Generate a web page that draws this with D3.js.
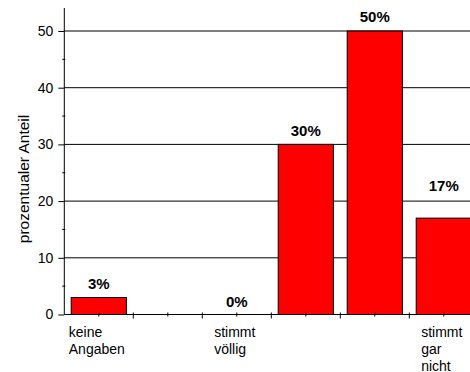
<!DOCTYPE html>
<html>
<head>
<meta charset="utf-8">
<script src="https://cdn.jsdelivr.net/npm/d3@7"></script>
<style>
  html, body { margin: 0; padding: 0; background: #fff; }
  svg { display: block; font-family: "Liberation Sans", Arial, Helvetica, sans-serif; }
</style>
</head>
<body>
<svg id="chart" width="470" height="372"></svg>
<script>
// Survey answers, share of respondents per answer option
const categories = ["keine Angaben", "", "stimmt völlig", "", "", "stimmt gar nicht"];
const values = [3, null, 0, 30, 50, 17];
const majorTicks = [0, 10, 20, 30, 40, 50];
const minorTicks = [5, 15, 25, 35, 45];
const yTitle = "prozentualer Anteil";

const svg = d3.select("#chart");
const W = 470;
const plotLeft = 64.3, plotBottom = 314.5, plotTop = 8;

const y = d3.scaleLinear().domain([0, 50]).range([plotBottom, 31]);
const idx = d3.range(categories.length);
const xOuter = d3.scaleBand().domain(idx).range([plotLeft, plotLeft + 69 * categories.length]).padding(0);
const xBar = d3.scaleBand().domain(idx).range([plotLeft, plotLeft + 69 * categories.length])
  .paddingInner(0.2).paddingOuter(0.1);

// horizontal grid lines
svg.append("g").selectAll("line")
  .data(majorTicks.filter(d => d > 0))
  .join("line")
  .attr("x1", plotLeft).attr("x2", W)
  .attr("y1", d => y(d)).attr("y2", d => y(d))
  .attr("stroke", "#000").attr("stroke-width", 1);

// bars
const bars = idx.filter(i => values[i] !== null && values[i] > 0);
svg.append("g").selectAll("rect")
  .data(bars)
  .join("rect")
  .attr("x", i => xBar(i))
  .attr("y", i => y(values[i]))
  .attr("width", xBar.bandwidth())
  .attr("height", i => y(0) - y(values[i]))
  .attr("fill", "#ff0000")
  .attr("stroke", "#000").attr("stroke-width", 1);

// y axis
const yAxis = d3.axisLeft(y).tickValues(majorTicks).tickSize(6).tickPadding(5).tickSizeOuter(0);
const gy = svg.append("g").attr("transform", `translate(${plotLeft},0)`).call(yAxis);
gy.select(".domain").remove();
gy.selectAll("text").attr("font-size", 14).attr("fill", "#000")
  .attr("font-family", "'Liberation Sans', Arial, sans-serif");
gy.selectAll("line").attr("stroke", "#000");
svg.append("line").attr("x1", plotLeft).attr("x2", plotLeft).attr("y1", plotTop).attr("y2", plotBottom)
  .attr("stroke", "#000");
svg.append("g").selectAll("line").data(minorTicks).join("line")
  .attr("x1", plotLeft - 2).attr("x2", plotLeft + 1)
  .attr("y1", d => y(d)).attr("y2", d => y(d))
  .attr("stroke", "#000");

// x axis
svg.append("line").attr("x1", plotLeft).attr("x2", W).attr("y1", plotBottom).attr("y2", plotBottom)
  .attr("stroke", "#000");
svg.append("g").selectAll("line").data(idx).join("line")
  .attr("x1", i => xOuter(i) + xOuter.step()).attr("x2", i => xOuter(i) + xOuter.step())
  .attr("y1", plotBottom - 2).attr("y2", plotBottom + 4)
  .attr("stroke", "#000");
svg.append("g").selectAll("line").data(idx).join("line")
  .attr("x1", i => xOuter(i) + xOuter.step() / 2).attr("x2", i => xOuter(i) + xOuter.step() / 2)
  .attr("y1", plotBottom - 2).attr("y2", plotBottom + 2)
  .attr("stroke", "#000");

// category labels, one word per line, block centred under the band
const catG = svg.append("g").attr("font-size", 14).attr("fill", "#000");
idx.forEach(i => {
  if (!categories[i]) return;
  const words = categories[i].split(" ");
  const t = catG.append("text").attr("y", 336.5);
  words.forEach((w, k) => {
    t.append("tspan").attr("dy", k === 0 ? 0 : 17).text(w);
  });
  let maxW = 0;
  t.selectAll("tspan").each(function () { maxW = Math.max(maxW, this.getComputedTextLength()); });
  const x0 = xOuter(i) + xOuter.step() / 2 - maxW / 2 - 2;
  t.selectAll("tspan").attr("x", x0);
});

// value labels above the bars
const labelLift = [8, 0, 8, 8, 9, 27];
svg.append("g").selectAll("text")
  .data(idx.filter(i => values[i] !== null))
  .join("text")
  .attr("x", i => xBar(i) + xBar.bandwidth() / 2)
  .attr("y", i => y(values[i]) - labelLift[i])
  .attr("text-anchor", "middle")
  .attr("font-size", 15).attr("font-weight", "bold").attr("fill", "#000")
  .text(i => values[i] + "%");

// y axis title
svg.append("text")
  .attr("transform", "translate(29,179) rotate(-90)")
  .attr("text-anchor", "middle")
  .attr("font-size", 15.5).attr("fill", "#000")
  .text(yTitle);
</script>
</body>
</html>
